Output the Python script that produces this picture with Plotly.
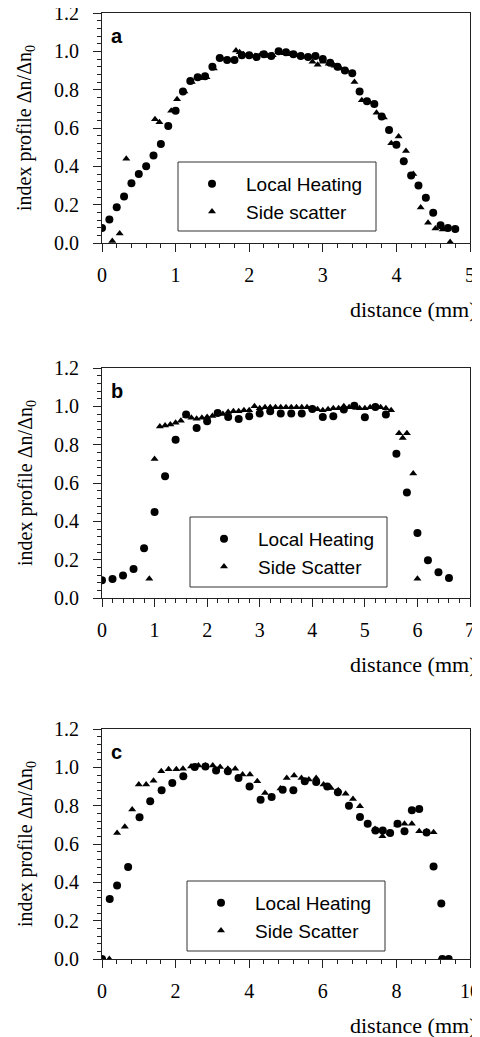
import plotly.graph_objects as go

# The page body adds an 8 px margin, so the figure is sized to fill the
# remaining window area and all page positions are shifted by that offset.
PAGE_W, PAGE_H = 480, 1037
OFF = 8
W, H = PAGE_W - OFF, PAGE_H - OFF

# ---------------- data ----------------
# Panel a
a_lh_x = [0.0, 0.1, 0.2, 0.3, 0.4, 0.5, 0.6, 0.7, 0.8, 0.9, 1.0, 1.1, 1.2, 1.3, 1.4, 1.5, 1.6, 1.7, 1.8,
          1.9, 2.0, 2.1, 2.2, 2.3, 2.4, 2.5, 2.6, 2.7, 2.8, 2.9, 3.0, 3.1, 3.2, 3.3, 3.4,
          3.5, 3.6, 3.7, 3.8, 3.9, 4.0, 4.1, 4.2, 4.3, 4.4, 4.5, 4.6, 4.7, 4.8]
a_lh_y = [0.078, 0.123, 0.187, 0.243, 0.312, 0.36, 0.40, 0.456, 0.516, 0.61, 0.69, 0.79, 0.845, 0.865, 0.87, 0.92, 0.965, 0.955, 0.955,
          0.98, 0.98, 0.97, 0.985, 0.975, 1.0, 0.995, 0.985, 0.975, 0.97, 0.975, 0.96, 0.94, 0.92, 0.90, 0.885,
          0.79, 0.74, 0.725, 0.66, 0.59, 0.513, 0.426, 0.352, 0.30, 0.236, 0.158, 0.092, 0.078, 0.073]
a_ss_x = [0.14, 0.24, 0.33, 0.72, 0.78, 0.94, 1.02, 1.12, 1.22, 1.32, 1.42, 1.52, 1.62, 1.72, 1.82, 1.87, 1.92,
          2.0, 2.08, 2.16, 2.24, 2.32, 2.4, 2.48, 2.56, 2.64, 2.72, 2.8, 2.86, 2.93, 3.0, 3.08, 3.16, 3.24, 3.32,
          3.43, 3.53, 3.63, 3.73, 3.83, 3.93, 4.03, 4.13, 4.23, 4.33, 4.43, 4.53, 4.63, 4.73]
a_ss_y = [0.01, 0.05, 0.44, 0.645, 0.63, 0.69, 0.75, 0.79, 0.84, 0.86, 0.865, 0.91, 0.965, 0.955, 1.005, 0.995, 0.985,
          0.98, 0.975, 0.985, 0.975, 0.98, 0.995, 0.99, 0.985, 0.98, 0.975, 0.97, 0.945, 0.93, 0.945, 0.935, 0.925, 0.91, 0.90,
          0.84, 0.745, 0.735, 0.68, 0.655, 0.52, 0.555, 0.48, 0.36, 0.185, 0.105, 0.075, 0.07, 0.005]

# Panel b
b_lh_x = [0.0, 0.2, 0.4, 0.6, 0.8, 1.0, 1.2, 1.4, 1.6, 1.8, 2.0, 2.2, 2.4, 2.6, 2.8, 3.0, 3.2, 3.4, 3.6, 3.8,
          4.0, 4.2, 4.4, 4.6, 4.8, 5.0, 5.2, 5.4, 5.6, 5.8, 6.0, 6.2, 6.4, 6.6]
b_lh_y = [0.092, 0.099, 0.117, 0.151, 0.26, 0.449, 0.635, 0.826, 0.957, 0.887, 0.922, 0.965, 0.944, 0.934, 0.948, 0.962, 0.974, 0.962, 0.962, 0.962,
          0.986, 0.944, 0.948, 0.983, 1.003, 0.943, 0.997, 0.957, 0.753, 0.551, 0.339, 0.197, 0.134, 0.104]
b_ss_x = [0.9, 1.0, 1.1, 1.2, 1.3, 1.4, 1.5, 1.6, 1.7, 1.8, 1.9, 2.0, 2.1, 2.2, 2.3, 2.4, 2.5, 2.6, 2.7, 2.8, 2.9,
          3.0, 3.1, 3.2, 3.3, 3.4, 3.5, 3.6, 3.7, 3.8, 3.9, 4.0, 4.1, 4.2, 4.3, 4.4, 4.5, 4.6, 4.7, 4.8, 4.9,
          5.0, 5.1, 5.2, 5.3, 5.4, 5.5, 5.65, 5.72, 5.8, 5.92, 6.0]
b_ss_y = [0.10, 0.725, 0.895, 0.90, 0.905, 0.915, 0.925, 0.95, 0.94, 0.935, 0.94, 0.945, 0.95, 0.96, 0.96, 0.97, 0.975, 0.975, 0.98, 0.98, 1.0,
          0.99, 0.995, 0.995, 0.995, 0.995, 0.995, 0.995, 0.995, 0.995, 0.995, 0.99, 0.985, 0.98, 0.985, 0.99, 0.99, 1.0, 0.995, 1.0, 0.99,
          0.99, 0.995, 1.0, 0.995, 0.99, 0.98, 0.86, 0.835, 0.86, 0.65, 0.10]

# Panel c
c_lh_x = [0.0, 0.21, 0.41, 0.71, 1.02, 1.31, 1.62, 1.91, 2.21, 2.52, 2.81, 3.1, 3.42, 3.71, 4.01, 4.31, 4.61, 4.91,
          5.2, 5.51, 5.82, 6.12, 6.41, 6.71, 7.01, 7.22, 7.43, 7.63, 7.83, 8.03, 8.22, 8.42, 8.62, 8.82, 9.01, 9.22, 9.25, 9.42]
c_lh_y = [0.0, 0.313, 0.384, 0.48, 0.74, 0.823, 0.88, 0.918, 0.953, 1.002, 1.005, 0.984, 0.979, 0.944, 0.90, 0.831, 0.845, 0.883,
          0.88, 0.927, 0.923, 0.90, 0.87, 0.80, 0.741, 0.706, 0.671, 0.671, 0.657, 0.706, 0.666, 0.776, 0.783, 0.66, 0.483, 0.289, 0.0, 0.0]
c_ss_x = [0.2, 0.41, 0.62, 0.82, 1.0, 1.2, 1.4, 1.61, 1.81, 2.02, 2.2, 2.42, 2.62, 2.81, 3.01, 3.21, 3.42, 3.62, 3.82,
          4.02, 4.22, 4.43, 4.85, 5.02, 5.22, 5.42, 5.62, 5.82, 6.02, 6.22, 6.42, 6.62, 6.82, 7.01, 7.42, 7.62,
          7.82, 8.02, 8.22, 8.42, 8.62, 8.82, 9.01, 9.2, 9.42]
c_ss_y = [0.0, 0.657, 0.69, 0.78, 0.91, 0.91, 0.93, 0.98, 0.99, 0.99, 0.993, 1.005, 1.01, 1.01, 1.01, 1.002, 0.993, 0.993, 0.962,
          0.962, 0.927, 0.866, 0.89, 0.944, 0.957, 0.944, 0.936, 0.944, 0.91, 0.892, 0.88, 0.862, 0.835, 0.797, 0.678, 0.64,
          0.657, 0.70, 0.706, 0.706, 0.666, 0.666, 0.661, 0.0, 0.0]

panel_letters = ["a", "b", "c"]
ss_names = ["Side scatter", "Side Scatter", "Side Scatter"]
x_ranges = [[0, 5], [0, 7], [0, 10]]
x_dticks = [1, 1, 2]
y_ticks = [0.0, 0.2, 0.4, 0.6, 0.8, 1.0, 1.2]

# ---------------- layout geometry (page pixels) ----------------
plot_left, plot_right = 102, 470
tops = [13, 368, 729]
bottoms = [243, 598, 959]
legend_boxes = [(178, 162, 376, 231), (190, 517, 387, 587), (187, 881, 385, 951)]


def px(x):
    return (x - OFF) / W


def py(y):
    return 1 - (y - OFF) / H


panels = [
    (a_lh_x, a_lh_y, a_ss_x, a_ss_y),
    (b_lh_x, b_lh_y, b_ss_x, b_ss_y),
    (c_lh_x, c_lh_y, c_ss_x, c_ss_y),
]

fig = go.Figure()
serif = "Liberation Serif"
sans = "Liberation Sans"

annotations = []
shapes = []
for i, (lx, ly, sx, sy) in enumerate(panels):
    n = "" if i == 0 else str(i + 1)
    leg = "legend" + n
    fig.add_trace(go.Scatter(x=lx, y=ly, mode="markers", name="Local Heating",
                             marker=dict(symbol="circle", size=8, color="black"),
                             xaxis="x" + n, yaxis="y" + n, legend=leg))
    fig.add_trace(go.Scatter(x=sx, y=sy, mode="markers", name=ss_names[i],
                             marker=dict(symbol="triangle-up", size=7, color="black"),
                             xaxis="x" + n, yaxis="y" + n, legend=leg))
    tickfont = dict(family=serif, size=20, color="black")
    fig.update_layout(**{
        "xaxis" + n: dict(domain=[px(plot_left), px(plot_right)], automargin=False,
                          range=x_ranges[i], dtick=x_dticks[i], tick0=0,
                          anchor="y" + n, ticklabelstandoff=6, ticklabeloverflow="allow",
                          showline=True, linecolor="#222", linewidth=1, mirror=True,
                          ticks="outside", tickcolor="#222", ticklen=8, tickwidth=1,
                          showgrid=False, zeroline=False, tickfont=tickfont,
                          minor=dict(ticks="outside", ticklen=4, tickcolor="#222",
                                     dtick=x_dticks[i] / 5, showgrid=False)),
        "yaxis" + n: dict(domain=[py(bottoms[i]), py(tops[i])], automargin=False,
                          range=[0, 1.2], tickvals=y_ticks, tickformat=".1f",
                          anchor="x" + n, ticklabelstandoff=10, ticklabeloverflow="allow",
                          showline=True, linecolor="#222", linewidth=1, mirror=True,
                          ticks="outside", tickcolor="#222", ticklen=8, tickwidth=1,
                          showgrid=False, zeroline=False, tickfont=tickfont,
                          minor=dict(ticks="outside", ticklen=4, tickcolor="#222",
                                     dtick=0.04, tick0=0, showgrid=False)),
    })
    x0, y0, x1, y1 = legend_boxes[i]
    shapes.append(dict(type="rect", xref="paper", yref="paper",
                       x0=px(x0), x1=px(x1), y0=py(y1), y1=py(y0),
                       line=dict(color="#333", width=1)))
    fig.update_layout(**{leg: dict(x=px(x0), y=py(y0 + 3), xanchor="left", yanchor="top",
                                   bgcolor="rgba(0,0,0,0)", borderwidth=0, itemwidth=58,
                                   tracegroupgap=0,
                                   font=dict(family=sans, size=19, color="black"))})
    # panel letter
    annotations.append(dict(text="<b>" + panel_letters[i] + "</b>", xref="paper", yref="paper",
                            x=px(109), y=py(tops[i] + 23), xanchor="left", yanchor="middle",
                            showarrow=False, font=dict(family=sans, size=20, color="black")))
    # y-axis title
    annotations.append(dict(text="index profile Δn/Δn<sub>0</sub>", xref="paper", yref="paper",
                            x=px(26), y=py((tops[i] + bottoms[i]) / 2), xanchor="center", yanchor="middle",
                            textangle=-90, showarrow=False,
                            font=dict(family=serif, size=20, color="black")))
    # x-axis title
    annotations.append(dict(text="distance (mm)", xref="paper", yref="paper",
                            x=px(478), y=py(bottoms[i] + 66), xanchor="right", yanchor="middle",
                            showarrow=False, font=dict(family=serif, size=22, color="black")))

fig.update_layout(template="none", width=W, height=H,
                  margin=dict(l=0, r=0, t=0, b=0, autoexpand=False),
                  plot_bgcolor="white", paper_bgcolor="white",
                  font=dict(family=serif, color="black"),
                  annotations=annotations, shapes=shapes, showlegend=True)

fig.write_html("out.html")
